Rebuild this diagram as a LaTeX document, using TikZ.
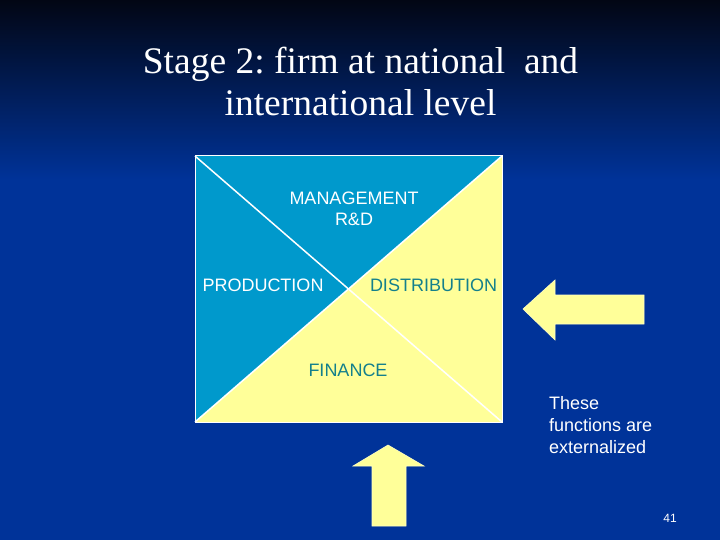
\documentclass[tikz,border=0pt]{standalone}
\usepackage{fontspec}
\setmainfont{Liberation Serif}
\newfontfamily\arialfont{Liberation Sans}
\definecolor{bgblue}{RGB}{0,51,153}
\definecolor{bgtop}{RGB}{2,6,20}
\definecolor{bgmid}{RGB}{0,30,90}
\definecolor{quadblue}{RGB}{0,153,204}
\definecolor{quadyellow}{RGB}{255,255,153}
\definecolor{tealtext}{RGB}{20,128,140}
\tikzset{
  quadlabel/.style={font=\arialfont\fontsize{18}{21}\selectfont, inner sep=0pt, align=center},
  onblue/.style={quadlabel, text=white},
  onyellow/.style={quadlabel, text=tealtext},
  blockarrow/.style={fill=quadyellow, draw=quadyellow!60!white, line width=0.6pt},
  divider/.style={draw=white, line width=1.5pt},
}
\begin{document}
\frenchspacing
\begin{tikzpicture}[x=1pt,y=-1pt]
\useasboundingbox (0,0) rectangle (720,540);
% background
\fill[bgblue] (0,0) rectangle (720,540);
\shade[top color=bgtop, middle color=bgmid, bottom color=bgblue] (0,0) rectangle (720,180);

% title
\node[text=white, font=\fontsize{37.5}{42}\selectfont, align=center, inner sep=0pt] (title) at (360.5,81)
  {Stage 2: firm at national~ and\\international level};

% square corners
\coordinate (tl) at (195,156);
\coordinate (tr) at (502,156);
\coordinate (br) at (502,422);
\coordinate (bl) at (195,422);
\coordinate (c) at (348.5,289);

\fill[quadblue] (tl) -- (tr) -- (c) -- cycle;
\fill[quadblue] (tl) -- (c) -- (bl) -- cycle;
\fill[quadyellow] (tr) -- (br) -- (c) -- cycle;
\fill[quadyellow] (bl) -- (c) -- (br) -- cycle;
\draw[divider] (tl) -- (br);
\draw[divider] (tr) -- (bl);
\draw[draw=white, line width=1pt] (tl) rectangle (br);

% labels
\node[onblue] (mgmt) at (354,208.5) {MANAGEMENT\\R\&D};
\node[onblue] (prod) at (263,285) {PRODUCTION};
\node[onyellow] (dist) at (433.5,285) {DISTRIBUTION};
\node[onyellow] (fin) at (348,370) {FINANCE};

% block arrows
\draw[blockarrow] (523,309) -- (555,280) -- (555,295) -- (644,295) -- (644,324) -- (555,324) -- (555,340) -- cycle;
\draw[blockarrow] (388,445) -- (424,466) -- (406,466) -- (406,526) -- (372,526) -- (372,466) -- (353,466) -- cycle;

% side text
\node[text=white, font=\arialfont\fontsize{18}{22}\selectfont, align=left, inner sep=0pt, anchor=north west] (ext) at (549,396)
  {These\\functions are\\externalized};

% page number
\node[text=white, font=\arialfont\fontsize{12}{14}\selectfont, inner sep=0pt] (pg) at (670,518) {41};
\end{tikzpicture}
\end{document}
